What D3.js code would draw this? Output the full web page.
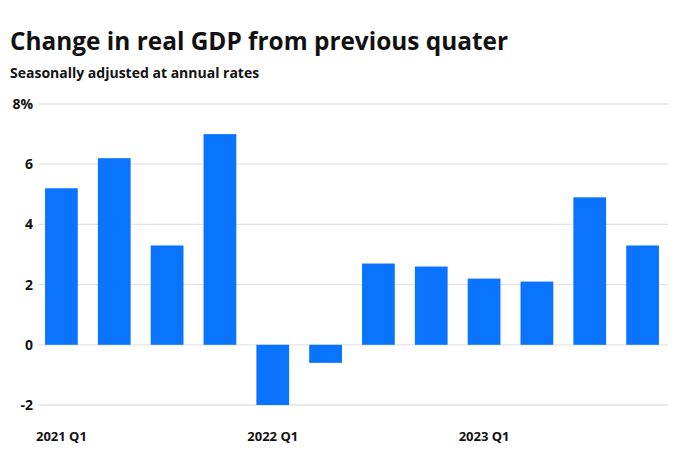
<!DOCTYPE html><html><head><meta charset="utf-8"><script src="https://cdn.jsdelivr.net/npm/d3@7"></script>
<style>body{margin:0;background:#fff;font-family:"Open Sans",sans-serif}</style></head><body><svg id="c" width="696" height="464"></svg><script>
const quarters=["2021 Q1","2021 Q2","2021 Q3","2021 Q4","2022 Q1","2022 Q2","2022 Q3","2022 Q4","2023 Q1","2023 Q2","2023 Q3","2023 Q4"];
const values=[5.2,6.2,3.3,7.0,-2.0,-0.6,2.7,2.6,2.2,2.1,4.9,3.3];
const yTicks=[-2,0,2,4,6,8];
const tickQuarters=["2021 Q1","2022 Q1","2023 Q1"];
const svg=d3.select("#c");
svg.append("text").attr("x",10).attr("y",50).attr("font-size",24.4).attr("font-weight",700).attr("fill","#111").text("Change in real GDP from previous quater");
svg.append("text").attr("x",10).attr("y",78).attr("font-size",14).attr("font-weight",700).attr("fill","#111").text("Seasonally adjusted at annual rates");
const y=d3.scaleLinear().domain([-2,8]).range([405,104]);
const x=d3.scaleBand().domain(quarters).range([35,669]).paddingInner(0.38).paddingOuter(0.19);
svg.append("g").selectAll("line").data(yTicks).join("line").attr("x1",38).attr("x2",668).attr("y1",d=>y(d)).attr("y2",d=>y(d)).attr("stroke","#e3e3e3").attr("stroke-width",1.3);
svg.append("g").selectAll("text").data(yTicks).join("text").attr("x",33).attr("y",d=>y(d)).attr("dy","0.35em").attr("text-anchor","end").attr("font-size",14).attr("font-weight",700).attr("fill","#111").text(d=>d===8?"8%":d);
svg.append("g").selectAll("rect").data(values).join("rect").attr("x",(d,i)=>x(quarters[i])).attr("width",x.bandwidth()).attr("y",d=>y(Math.max(0,d))).attr("height",d=>Math.abs(y(d)-y(0))).attr("fill","#0a74ff");
svg.append("g").selectAll("text").data(tickQuarters).join("text").attr("x",d=>x(d)+x.bandwidth()/2).attr("y",441).attr("text-anchor","middle").attr("font-size",13).attr("font-weight",700).attr("fill","#111").text(d=>d);
</script></body></html>
